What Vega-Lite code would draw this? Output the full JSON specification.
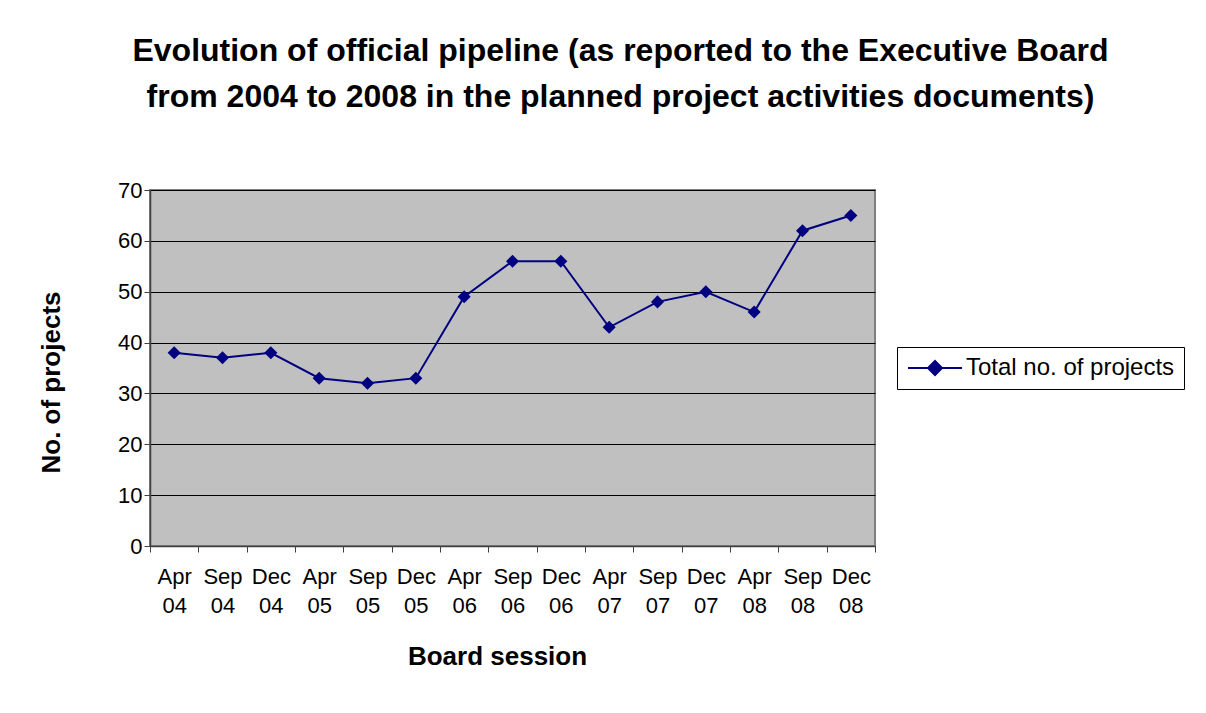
{
  "$schema": "https://vega.github.io/schema/vega-lite/v6.json",
  "autosize": "none",
  "width": 725,
  "height": 356,
  "padding": {"left": 150, "top": 190, "right": 331, "bottom": 167},
  "background": "white",
  "title": {
    "text": ["Evolution of official pipeline (as reported to the Executive Board", "from 2004 to 2008 in the planned project activities documents)"],
    "font": "Liberation Sans",
    "fontSize": 32,
    "fontWeight": "bold",
    "color": "black",
    "anchor": "middle",
    "lineHeight": 46,
    "baseline": "alphabetic",
    "offset": 40,
    "dx": 108
  },
  "data": {
    "values": [
      {"session": "Apr 04", "projects": 38},
      {"session": "Sep 04", "projects": 37},
      {"session": "Dec 04", "projects": 38},
      {"session": "Apr 05", "projects": 33},
      {"session": "Sep 05", "projects": 32},
      {"session": "Dec 05", "projects": 33},
      {"session": "Apr 06", "projects": 49},
      {"session": "Sep 06", "projects": 56},
      {"session": "Dec 06", "projects": 56},
      {"session": "Apr 07", "projects": 43},
      {"session": "Sep 07", "projects": 48},
      {"session": "Dec 07", "projects": 50},
      {"session": "Apr 08", "projects": 46},
      {"session": "Sep 08", "projects": 62},
      {"session": "Dec 08", "projects": 65}
    ]
  },
  "mark": {
    "type": "line",
    "strokeWidth": 2,
    "point": {"shape": "diamond", "size": 170, "filled": true, "opacity": 1}
  },
  "encoding": {
    "x": {
      "field": "session",
      "type": "nominal",
      "sort": null,
      "scale": {"type": "band", "paddingInner": 0, "paddingOuter": 0},
      "axis": {
        "title": "Board session",
        "titleFont": "Liberation Sans",
        "titleFontSize": 26,
        "titleFontWeight": "bold",
        "titleColor": "black",
        "titleX": 347,
        "titleY": 118,
        "titleAlign": "center",
        "titleBaseline": "alphabetic",
        "labelAngle": 0,
        "labelExpr": "split(datum.label, ' ')",
        "labelFont": "Liberation Sans",
        "labelFontSize": 22,
        "labelColor": "black",
        "labelLineHeight": 29,
        "labelPadding": 14,
        "labelBaseline": "top",
        "tickBand": "extent",
        "tickSize": 6,
        "tickColor": "#404040",
        "domainColor": "#404040",
        "domainWidth": 1.5,
        "grid": false
      }
    },
    "y": {
      "field": "projects",
      "type": "quantitative",
      "scale": {"domain": [0, 70], "nice": false},
      "axis": {
        "values": [0, 10, 20, 30, 40, 50, 60, 70],
        "title": "No. of projects",
        "titleFont": "Liberation Sans",
        "titleFontSize": 26,
        "titleFontWeight": "bold",
        "titleColor": "black",
        "titleX": -91,
        "titleY": 192,
        "titleAngle": -90,
        "titleAlign": "center",
        "titleBaseline": "alphabetic",
        "labelFont": "Liberation Sans",
        "labelFontSize": 22,
        "labelColor": "black",
        "labelPadding": 2,
        "tickSize": 6,
        "tickColor": "#404040",
        "domainColor": "#404040",
        "domainWidth": 1.5,
        "grid": true,
        "gridColor": "black",
        "gridWidth": 1
      }
    },
    "color": {
      "datum": "Total no. of projects",
      "type": "nominal",
      "scale": {"range": ["#000080"]},
      "legend": {
        "title": null,
        "orient": "none",
        "legendX": 747,
        "legendY": 157,
        "direction": "vertical",
        "fillColor": "white",
        "strokeColor": "black",
        "padding": 9,
        "symbolType": "M-2.7,0H2.7M0,-0.7L0.7,0L0,0.7L-0.7,0Z",
        "symbolSize": 400,
        "symbolOffset": 17,
        "symbolStrokeWidth": 2,
        "symbolFillColor": "#000080",
        "symbolStrokeColor": "#000080",
        "labelFont": "Liberation Sans",
        "labelFontSize": 24,
        "labelColor": "black",
        "labelOffset": 19,
        "labelLimit": 400
      }
    }
  },
  "config": {
    "view": {"fill": "#C0C0C0", "stroke": "#808080", "strokeWidth": 2}
  }
}
